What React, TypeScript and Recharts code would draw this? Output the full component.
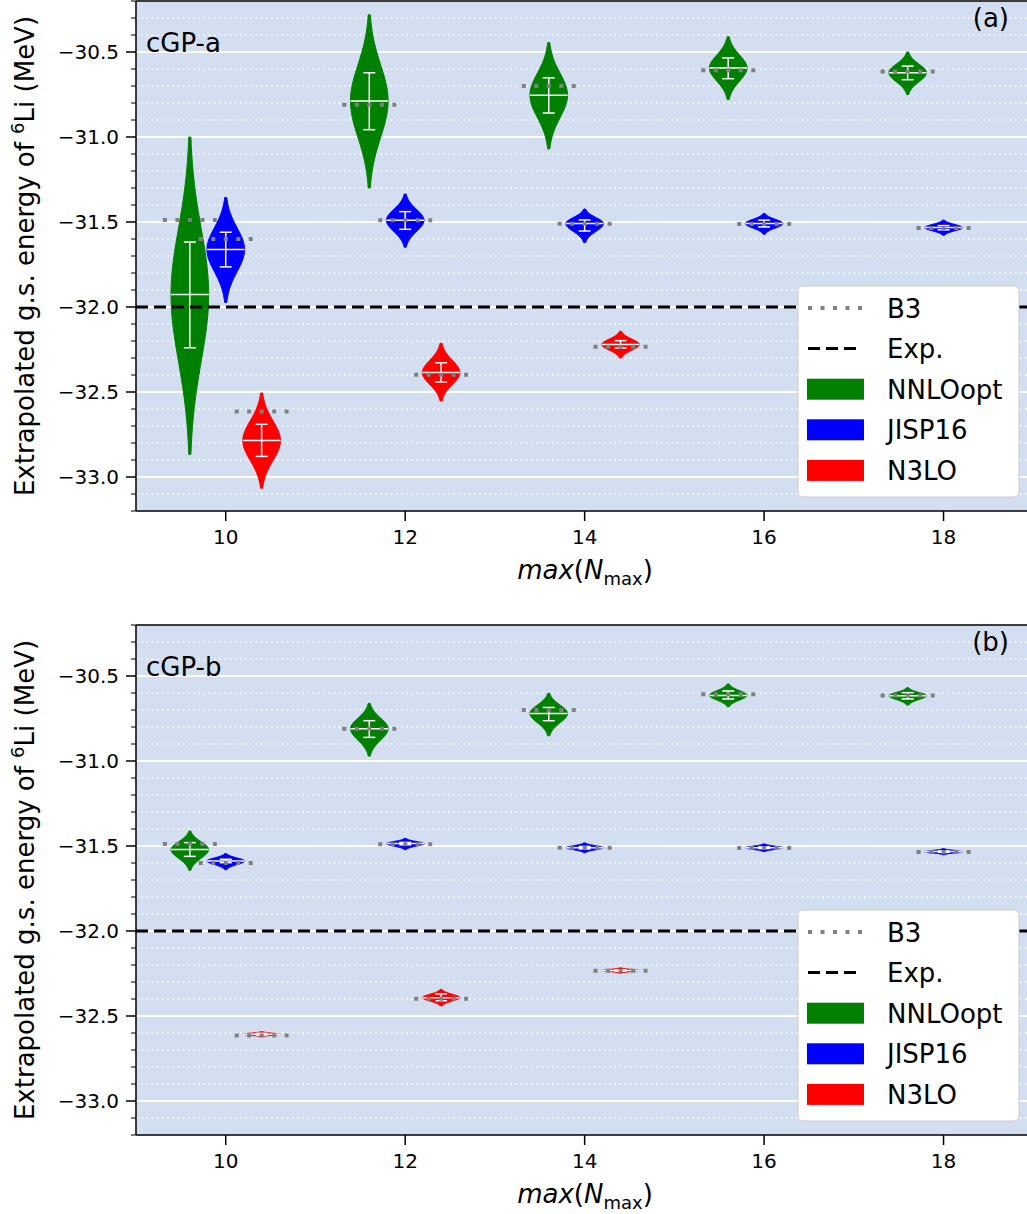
import React from 'react';
import { ComposedChart, XAxis, YAxis, Scatter, ErrorBar, ReferenceLine, CartesianGrid } from 'recharts';

const FONT = "'DejaVu Sans', sans-serif";
const W = 1027;
const H = 607;
const PLOT_LEFT = 136;
const BG = '#d3def0';
const HALF = 0.21;

// ---------- data ----------
const positions = [9.6, 10, 10.4, 11.6, 12, 12.4, 13.6, 14, 14.4, 15.6, 16, 17.6, 18];
const forces = ['NNLOopt', 'JISP16', 'N3LO', 'NNLOopt', 'JISP16', 'N3LO', 'NNLOopt', 'JISP16', 'N3LO', 'NNLOopt', 'JISP16', 'NNLOopt', 'JISP16'];
const b3Values = [-31.488, -31.6, -32.614, -30.81, -31.49, -32.398, -30.7, -31.51, -32.234, -30.608, -31.512, -30.614, -31.535];
const expValue = -32.0;

// panel (a) cGP-a
const medianA = [-31.926, -31.662, -32.786, -30.788, -31.49, -32.386, -30.754, -31.509, -32.221, -30.594, -31.509, -30.622, -31.533];
const lowA = [-32.24, -31.764, -32.879, -30.957, -31.543, -32.441, -30.859, -31.553, -32.241, -30.657, -31.529, -30.663, -31.546];
const highA = [-31.618, -31.56, -32.69, -30.622, -31.439, -32.328, -30.652, -31.488, -32.198, -30.535, -31.489, -30.583, -31.521];
const minA = [-32.867, -31.973, -33.066, -31.3, -31.648, -32.553, -31.07, -31.62, -32.3, -30.78, -31.572, -30.75, -31.578];
const maxA = [-31.0, -31.356, -32.506, -30.281, -31.336, -32.214, -30.445, -31.424, -32.143, -30.41, -31.45, -30.5, -31.489];

// panel (b) cGP-b
const medianB = [-31.521, -31.588, -32.607, -30.81, -31.486, -32.392, -30.72, -31.51, -32.232, -30.614, -31.51, -30.616, -31.533];
const lowB = [-31.561, -31.598, -32.612, -30.861, -31.493, -32.41, -30.763, -31.517, -32.236, -30.635, -31.515, -30.635, -31.537];
const highB = [-31.48, -31.578, -32.602, -30.763, -31.479, -32.37, -30.685, -31.503, -32.228, -30.588, -31.505, -30.598, -31.529];
const minB = [-31.643, -31.639, -32.622, -30.971, -31.521, -32.44, -30.852, -31.539, -32.248, -30.681, -31.533, -30.671, -31.551];
const maxB = [-31.412, -31.545, -32.592, -30.661, -31.456, -32.344, -30.602, -31.482, -32.217, -30.547, -31.488, -30.569, -31.516];

const xTicks = [10, 12, 14, 16, 18];
const yMajorTicks = [-33.0, -32.5, -32.0, -31.5, -31.0, -30.5];
const yMinorTicks = [-33.2, -33.1, -32.9, -32.8, -32.7, -32.6, -32.4, -32.3, -32.2, -32.1, -31.9, -31.8, -31.7, -31.6, -31.4, -31.3, -31.2, -31.1, -30.9, -30.8, -30.7, -30.6, -30.4, -30.3, -30.2];

const COLORS: Record<string, string> = { NNLOopt: '#008000', JISP16: '#0000ff', N3LO: '#ff0000' };
const legendItems = ['NNLOopt', 'JISP16', 'N3LO'];

// ---------- helpers ----------
type Violin = { x: number; force: string; med: number; lo: number; hi: number; min: number; max: number; b3: number };

function buildViolins(med: number[], lo: number[], hi: number[], mins: number[], maxs: number[]): Violin[] {
  return positions.map((x, i) => ({ x, force: forces[i], med: med[i], lo: lo[i], hi: hi[i], min: mins[i], max: maxs[i], b3: b3Values[i] }));
}

function outlinePoints(v: Violin) {
  const su = (v.max - v.med) / 2.4;
  const sd = (v.med - v.min) / 2.4;
  const n = 30;
  const ys: number[] = [];
  for (let i = 0; i <= n; i++) ys.push(v.min + ((v.med - v.min) * i) / n);
  for (let i = 1; i <= n; i++) ys.push(v.med + ((v.max - v.med) * i) / n);
  const w = (y: number) => {
    const s = y < v.med ? sd : su;
    const z = s > 0 ? (y - v.med) / s : 0;
    return HALF * Math.exp(-0.5 * z * z);
  };
  const right = ys.map((y) => ({ x: v.x + w(y), y }));
  const left = ys
    .slice()
    .reverse()
    .map((y) => ({ x: v.x - w(y), y }));
  return [...right, ...left];
}

const NoShape = () => <g />;

function polygonLine(color: string) {
  return (p: any) => {
    const pts = (p && p.points) || [];
    if (!pts.length) return <g />;
    const d = pts.map((q: any, i: number) => `${i ? 'L' : 'M'}${q.x},${q.y}`).join('') + 'Z';
    return <path d={d} fill={color} stroke={color} strokeWidth={1} strokeLinejoin="round" />;
  };
}

const isMajor = (v: number) => Math.abs(v * 2 - Math.round(v * 2)) < 1e-6;
const fmt = (v: number) => v.toFixed(1).replace('-', '\u2212');

const YTick = (props: any) => {
  const { y, payload } = props;
  const v = payload.value as number;
  const major = isMajor(v);
  return (
    <g>
      <line x1={PLOT_LEFT - (major ? 10 : 5)} x2={PLOT_LEFT} y1={y} y2={y} stroke="#000" strokeWidth={major ? 1.5 : 1} />
      {major && (
        <text x={PLOT_LEFT - 17} y={y} dy="0.36em" textAnchor="end" fontSize={20} fontFamily={FONT} fill="#000">
          {fmt(v)}
        </text>
      )}
    </g>
  );
};

const XTick = (props: any) => {
  const { x, y, payload } = props;
  return (
    <text x={x} y={y + 21} textAnchor="middle" fontSize={20} fontFamily={FONT} fill="#000">
      {String(payload.value)}
    </text>
  );
};

const allYTicks = [...yMajorTicks, ...yMinorTicks].sort((a, b) => a - b);

function Panel({ violins, margin }: { violins: Violin[]; margin: any }) {
  const centers = violins.map((v) => ({ x: v.x, y: v.med, err: [v.med - v.lo, v.hi - v.med], hw: HALF }));
  const b3pts = violins.map((v) => ({ x: v.x, y: v.b3, e: 0.3 }));
  return (
    <ComposedChart width={W} height={H} margin={margin}>
      <CartesianGrid horizontal={false} vertical={false} fill={BG} fillOpacity={1} stroke="none" />
      {yMinorTicks
        .filter((t) => t > -33.19 && t < -30.21)
        .map((t) => (
          <ReferenceLine key={'mi' + t} y={t} stroke="#ffffff" strokeWidth={1.5} strokeDasharray="1.6 3.6" zIndex={-50} />
        ))}
      {yMajorTicks.map((t) => (
        <ReferenceLine key={'ma' + t} y={t} stroke="#ffffff" strokeWidth={2} zIndex={-50} />
      ))}
      <XAxis
        dataKey="x"
        type="number"
        domain={[9, 18.93]}
        allowDataOverflow
        ticks={xTicks}
        interval={0}
        tickSize={10}
        tickLine={{ stroke: '#000', strokeWidth: 1.5 }}
        axisLine={{ stroke: '#000', strokeWidth: 1.5 }}
        tick={XTick}
        height={60}
      />
      <YAxis
        dataKey="y"
        type="number"
        domain={[-33.2, -30.2]}
        allowDataOverflow
        ticks={allYTicks}
        interval={0}
        tickLine={false}
        axisLine={{ stroke: '#000', strokeWidth: 1.5 }}
        tick={YTick}
        width={PLOT_LEFT}
      />
      {violins.map((v, i) => (
        <Scatter
          key={'v' + i}
          data={outlinePoints(v)}
          line={polygonLine(COLORS[v.force])}
          shape={NoShape}
          isAnimationActive={false}
          legendType="none"
          zIndex={600}
        />
      ))}
      <Scatter data={centers} shape={NoShape} isAnimationActive={false} legendType="none" zIndex={700}>
        <ErrorBar dataKey="hw" direction="x" width={0} stroke="#ffffff" strokeWidth={1.5} isAnimationActive={false} zIndex={700} />
        <ErrorBar dataKey="err" direction="y" width={6} stroke="#ffffff" strokeWidth={1.5} isAnimationActive={false} zIndex={700} />
      </Scatter>
      <Scatter data={b3pts} shape={NoShape} isAnimationActive={false} legendType="none" zIndex={800}>
        <ErrorBar
          dataKey="e"
          direction="x"
          width={0}
          stroke="#808080"
          strokeWidth={4}
          strokeDasharray="4 8.5"
          isAnimationActive={false}
          zIndex={800}
        />
      </Scatter>
      <ReferenceLine y={expValue} stroke="#000" strokeWidth={3} strokeDasharray="12 6" zIndex={900} />
      <ReferenceLine y={-30.2} stroke="#000" strokeWidth={1.5} zIndex={900} />
    </ComposedChart>
  );
}

function Annotations({ off, name, tag }: { off: number; name: string; tag: string }) {
  const legendTop = 286 + off;
  const rows = [0, 1, 2, 3, 4].map((i) => legendTop + 22 + i * 40.6);
  return (
    <g fontFamily={FONT} fill="#000">
      <text x={146} y={52 + off} fontSize={26}>{name}</text>
      <text x={1009} y={27 + off} fontSize={26} textAnchor="end">{tag}</text>
      <text x={34} y={256 + off} fontSize={26} textAnchor="middle" transform={`rotate(-90 34 ${256 + off})`}>
        Extrapolated g.s. energy of <tspan dy={-10} fontSize={18}>6</tspan>
        <tspan dy={10}>Li (MeV)</tspan>
      </text>
      <text x={585} y={579 + off} fontSize={26} textAnchor="middle">
        <tspan fontStyle="italic">max</tspan>(<tspan fontStyle="italic">N</tspan>
        <tspan fontSize={18} dy={6}>max</tspan>
        <tspan dy={-6}>)</tspan>
      </text>
      <rect x={798} y={legendTop} width={221} height={211} rx={5} fill="#ffffff" fillOpacity={1} stroke="#cccccc" strokeWidth={1} />
      <line x1={808} x2={862} y1={rows[0]} y2={rows[0]} stroke="#808080" strokeWidth={4} strokeDasharray="4 8.5" />
      <text x={887} y={rows[0] + 9.5} fontSize={26}>B3</text>
      <line x1={808} x2={862} y1={rows[1]} y2={rows[1]} stroke="#000" strokeWidth={3} strokeDasharray="12 6" />
      <text x={887} y={rows[1] + 9.5} fontSize={26}>Exp.</text>
      {legendItems.map((f, i) => (
        <g key={f}>
          <rect x={807} y={rows[i + 2] - 10.5} width={57} height={21} fill={COLORS[f]} />
          <text x={887} y={rows[i + 2] + 9.5} fontSize={26}>{f}</text>
        </g>
      ))}
    </g>
  );
}

export default function App() {
  const violinsA = buildViolins(medianA, lowA, highA, minA, maxA);
  const violinsB = buildViolins(medianB, lowB, highB, minB, maxB);
  return (
    <div style={{ position: 'absolute', left: 0, top: 0, width: W, height: 2 * H, background: '#fff' }}>
      <div style={{ position: 'absolute', left: 0, top: 0 }}>
        <Panel violins={violinsA} margin={{ top: 1, right: 0, left: 0, bottom: 36 }} />
      </div>
      <div style={{ position: 'absolute', left: 0, top: H }}>
        <Panel violins={violinsB} margin={{ top: 18, right: 0, left: 0, bottom: 19 }} />
      </div>
      <svg width={W} height={2 * H} style={{ position: 'absolute', left: 0, top: 0, pointerEvents: 'none' }}>
        <Annotations off={0} name="cGP-a" tag="(a)" />
        <Annotations off={624} name="cGP-b" tag="(b)" />
      </svg>
    </div>
  );
}
